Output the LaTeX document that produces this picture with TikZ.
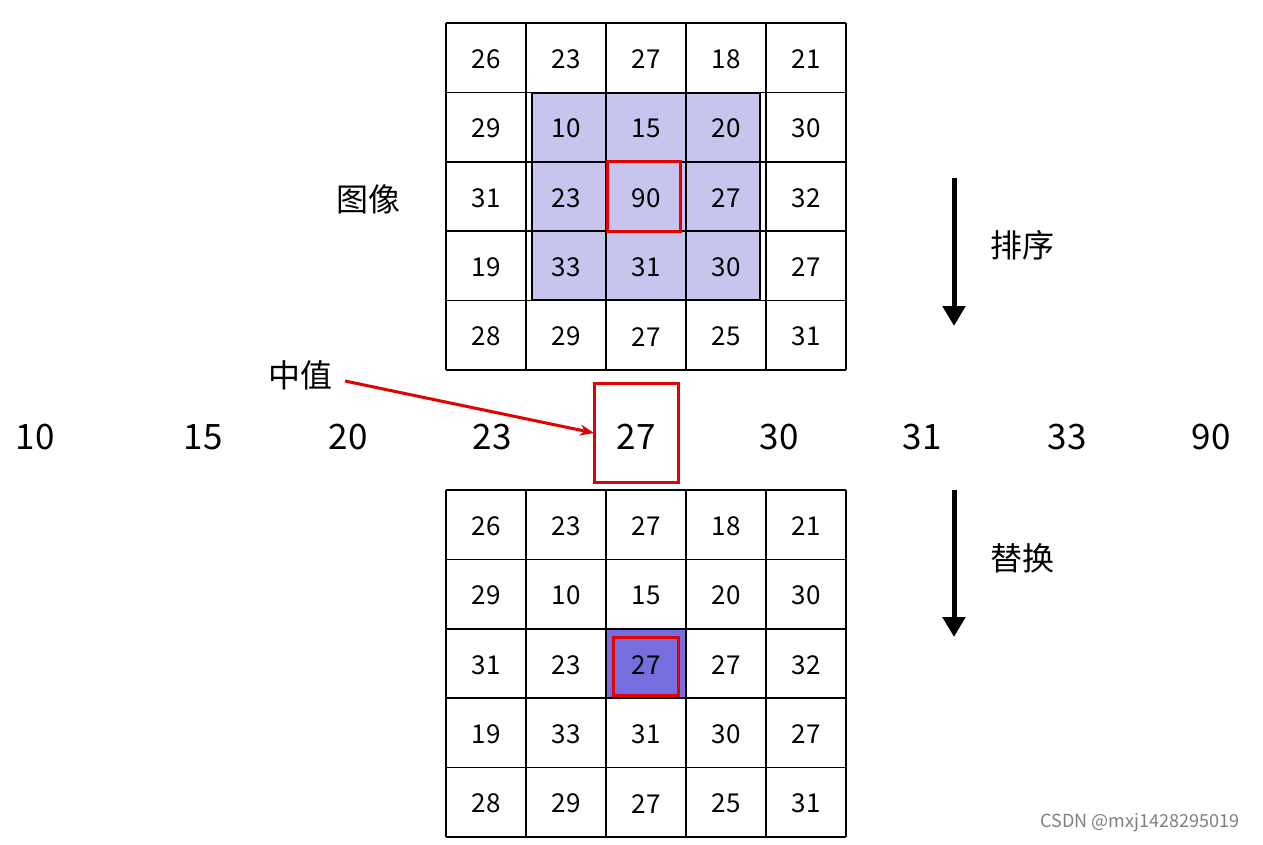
\documentclass[tikz,border=0pt]{standalone}
\usepackage{fontspec}
\setmainfont{Noto Sans CJK SC}
\usetikzlibrary{arrows.meta}
\begin{document}
\begin{tikzpicture}[x=1pt,y=-1pt,
  cell/.style={font=\fontsize{26}{30}\selectfont},
  big/.style={font=\fontsize{35}{40}\selectfont},
  lab/.style={font=\fontsize{32}{36}\selectfont},
  redbox/.style={draw=red!90!black,line width=3pt}]
\useasboundingbox (0,0) rectangle (1263,845);
\fill[fill={rgb,255:red,199;green,196;blue,238}] (532,93) rectangle (760,300);
\draw[line width=1.5pt] (532,93) rectangle (760,300);
\foreach \y in {162,231} \draw[line width=1.5pt] (532,\y) -- (760,\y);
\fill[fill={rgb,255:red,118;green,110;blue,222}] (607,630) rectangle (685,699);
\foreach \oy in {23,490}{
  \foreach \i in {0,...,5} {
    \draw[line width=1.6pt] (446+80*\i,\oy) -- (446+80*\i,\oy+347);
    \draw[line width=1.6pt] (446,\oy+69.4*\i) -- (846,\oy+69.4*\i);
  }
}
\foreach \r [count=\ri from 0] in {{26,23,27,18,21},{29,10,15,20,30},{31,23,90,27,32},{19,33,31,30,27},{28,29,27,25,31}}{
  \foreach \v [count=\ci from 0] in \r {
    \node[cell] (t\ri\ci) at (486+80*\ci,59+69.4*\ri) {\v};
  }
}
\foreach \r [count=\ri from 0] in {{26,23,27,18,21},{29,10,15,20,30},{31,23,27,27,32},{19,33,31,30,27},{28,29,27,25,31}}{
  \foreach \v [count=\ci from 0] in \r {
    \node[cell] (b\ri\ci) at (486+80*\ci,526+69.4*\ri) {\v};
  }
}
\draw[redbox] (607,162) rectangle (680,231);
\draw[redbox] (613,637) rectangle (678,695);
\foreach \v/\x [count=\k] in {10/35,15/203,20/348,23/492,27/636,30/779,31/922,33/1067,90/1211}
  \node[big] (s\k) at (\x,437) {\v};
\draw[redbox] (594,383) rectangle (678,482);
\node[lab] (img) at (368,199) {图像};
\node[lab] (med) at (300,375) {中值};
\coordinate (ms) at (345,381);
\coordinate (mt) at (594,433);
\draw[red!90!black,line width=3pt,-{Stealth[length=14pt,width=11pt]}] (ms) -- (mt);
\coordinate (a1) at (954,178); \coordinate (a2) at (954,326);
\coordinate (a3) at (954,490); \coordinate (a4) at (954,637);
\draw[line width=5pt,-{Triangle[length=20pt,width=22pt]}] (a1) -- (a2);
\draw[line width=5pt,-{Triangle[length=20pt,width=22pt]}] (a3) -- (a4);
\node[lab] (sort) at (1022,245) {排序};
\node[lab] (rep) at (1022,558) {替换};
\node[font=\fontsize{18}{21}\selectfont,text=gray] (wm) at (1140,823) {CSDN @mxj1428295019};
\end{tikzpicture}
\end{document}
